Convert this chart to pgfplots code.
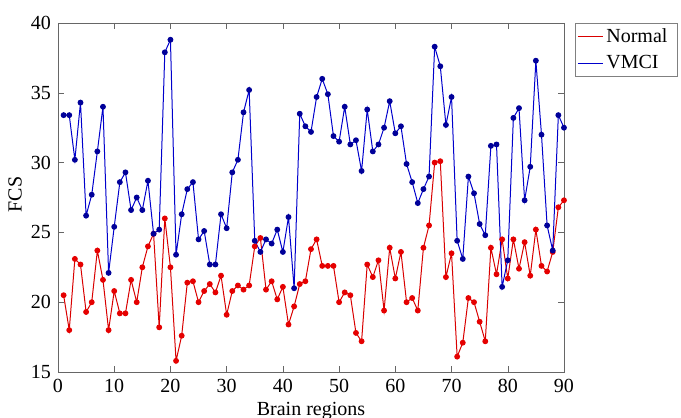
\documentclass[border=0pt]{standalone}
\usepackage{fontspec}
\setmainfont{Liberation Serif}
\usepackage{pgfplots}
\pgfplotsset{compat=1.18}
\begin{document}
\begin{tikzpicture}[font=\fontsize{10}{12}\selectfont]
\useasboundingbox (0,0) rectangle (340.5pt,209pt);
\begin{axis}[
  at={(29pt,23pt)}, anchor=south west,
  width=253pt, height=174.5pt, scale only axis,
  xmin=0, xmax=90, ymin=15, ymax=40,
  xtick={0,10,...,90}, ytick={15,20,...,40},
  tick align=inside, tick pos=both,
  major tick length=3pt,
  axis line style={black!60}, tick style={black!60},
  /pgf/number format/assume math mode=true,
  xlabel={Brain regions}, ylabel={FCS},
  every axis x label/.style={at={(axis description cs:0.5,0)}, anchor=center, yshift=-19.5pt},
  every axis y label/.style={at={(axis description cs:0,0.5)}, rotate=90, anchor=center, yshift=21.5pt, xshift=1.5pt},
  legend style={at={(axis description cs:1,1)}, anchor=north west, xshift=5.5pt,
    draw=black!50, fill=white, inner sep=1pt, row sep=2pt, column sep=0pt,
    nodes={inner sep=1.5pt}, font=\fontsize{10}{12}\selectfont},
  legend cell align=left,
  legend image code/.code={\draw[#1,mark=none] (0pt,0pt) -- (12.5pt,0pt);},
]
\addplot[red!85!black, line width=0.5pt, mark=*, mark size=1.2pt, mark options={fill=red!90!black, draw=red!90!black}] coordinates {
(1,20.5)(2,18.0)(3,23.1)(4,22.7)(5,19.3)(6,20.0)(7,23.7)(8,21.6)(9,18.0)(10,20.8)
(11,19.2)(12,19.2)(13,21.6)(14,20.0)(15,22.5)(16,24.0)(17,24.9)(18,18.2)(19,26.0)(20,22.5)
(21,15.8)(22,17.6)(23,21.4)(24,21.5)(25,20.0)(26,20.8)(27,21.3)(28,20.7)(29,21.9)(30,19.1)
(31,20.8)(32,21.2)(33,20.9)(34,21.2)(35,24.0)(36,24.6)(37,20.9)(38,21.5)(39,20.2)(40,21.1)
(41,18.4)(42,19.7)(43,21.3)(44,21.5)(45,23.8)(46,24.5)(47,22.6)(48,22.6)(49,22.6)(50,20.0)
(51,20.7)(52,20.5)(53,17.8)(54,17.2)(55,22.7)(56,21.8)(57,23.0)(58,19.4)(59,23.9)(60,21.7)
(61,23.6)(62,20.0)(63,20.3)(64,19.4)(65,23.9)(66,25.5)(67,30.0)(68,30.1)(69,21.8)(70,23.5)
(71,16.1)(72,17.1)(73,20.3)(74,20.0)(75,18.6)(76,17.2)(77,23.9)(78,22.0)(79,24.5)(80,21.7)
(81,24.5)(82,22.4)(83,24.3)(84,21.9)(85,25.2)(86,22.6)(87,22.2)(88,23.6)(89,26.8)(90,27.3)
};
\addlegendentry{\makebox[33pt][l]{Normal}}
\addplot[blue!80!black, line width=0.5pt, mark=*, mark size=1.2pt, mark options={fill=blue!60!black, draw=blue!60!black}] coordinates {
(1,33.4)(2,33.4)(3,30.2)(4,34.3)(5,26.2)(6,27.7)(7,30.8)(8,34.0)(9,22.1)(10,25.4)
(11,28.6)(12,29.3)(13,26.6)(14,27.5)(15,26.6)(16,28.7)(17,24.9)(18,25.2)(19,37.9)(20,38.8)
(21,23.4)(22,26.3)(23,28.1)(24,28.6)(25,24.5)(26,25.1)(27,22.7)(28,22.7)(29,26.3)(30,25.3)
(31,29.3)(32,30.2)(33,33.6)(34,35.2)(35,24.4)(36,23.6)(37,24.5)(38,24.2)(39,25.2)(40,23.6)
(41,26.1)(42,21.0)(43,33.5)(44,32.6)(45,32.2)(46,34.7)(47,36.0)(48,34.9)(49,31.9)(50,31.5)
(51,34.0)(52,31.3)(53,31.6)(54,29.4)(55,33.8)(56,30.8)(57,31.3)(58,32.5)(59,34.4)(60,32.1)
(61,32.6)(62,29.9)(63,28.6)(64,27.1)(65,28.1)(66,29.0)(67,38.3)(68,36.9)(69,32.7)(70,34.7)
(71,24.4)(72,23.1)(73,29.0)(74,27.8)(75,25.6)(76,24.8)(77,31.2)(78,31.3)(79,21.1)(80,23.0)
(81,33.2)(82,33.9)(83,27.3)(84,29.7)(85,37.3)(86,32.0)(87,25.5)(88,23.7)(89,33.4)(90,32.5)
};
\addlegendentry{\makebox[33pt][l]{VMCI}}
\end{axis}
\end{tikzpicture}
\end{document}
